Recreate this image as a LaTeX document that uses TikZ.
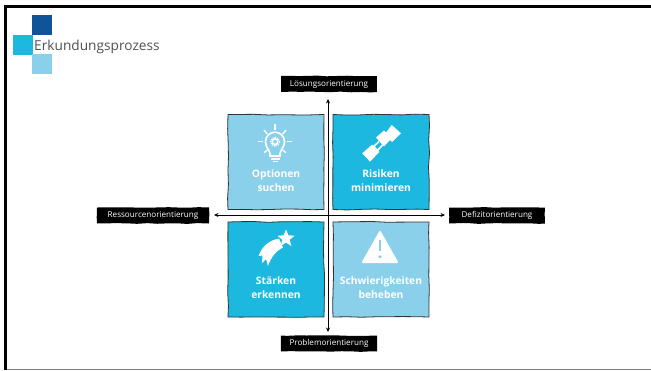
\documentclass[tikz,border=0pt]{standalone}
\usepackage{fontspec}
\setmainfont{Open Sans}
\usetikzlibrary{decorations.pathmorphing, arrows.meta}
\definecolor{darkblue}{HTML}{0F5499}
\definecolor{midblue}{HTML}{1CB8DF}
\definecolor{lightblue}{HTML}{8AD0EA}
\definecolor{titlegray}{HTML}{505050}
\definecolor{rimgray}{HTML}{808080}

\begin{document}
\begin{tikzpicture}[x=1pt,y=-1pt]
	\pgfmathsetseed{7}
	\tikzstyle{square} = [minimum size=20pt,inner sep=0pt,anchor=north west]
	\tikzstyle{panel} = [draw=black!80,line width=0.8pt,minimum width=96pt,minimum height=95pt,inner sep=0pt,decorate,decoration={random steps,segment length=14pt,amplitude=0.5pt}]
	\tikzstyle{panellabel} = [text=white,align=center,font=\fontsize{10.3}{14}\selectfont\bfseries,inner sep=0pt]
	\tikzstyle{tag} = [fill=black,text=white,font=\fontsize{8.1}{9}\selectfont,inner sep=0pt,minimum height=16pt,decorate,decoration={random steps,segment length=10pt,amplitude=0.4pt}]
	\tikzstyle{axis} = [{Stealth[length=4.5pt,width=4pt]}-{Stealth[length=4.5pt,width=4pt]},line width=1pt]
	\tikzstyle{ray} = [white,line width=1.4pt]
	\useasboundingbox (0,0) rectangle (651,370);
	% slide frame
	\fill[black] (4,370) rectangle (7,5);
	\fill[black] (4,5) rectangle (651,8);
	\fill[rimgray] (7,369) rectangle (651,370);
	% logo and title
	\node[square,fill=darkblue] (logo1) at (32,15) {};
	\node[square,fill=midblue] (logo2) at (13,35) {};
	\node[square,fill=lightblue] (logo3) at (32,54) {};
	\node[anchor=base west,inner sep=0pt,text=titlegray,font=\fontsize{13.7}{16}\selectfont] (title) at (34,50.5) {Erkundungsprozess};
	% panels
	\node[panel,fill=lightblue] (options) at (276,162) {};
	\node[panel,fill=midblue] (risks) at (381,162) {};
	\node[panel,fill=midblue] (strengths) at (276,269.5) {};
	\node[panel,fill=lightblue] (problems) at (381,269.5) {};
	\node[panellabel] (optionstext) at (276,181) {Optionen\\suchen};
	\node[panellabel] (riskstext) at (381,181) {Risiken\\minimieren};
	\node[panellabel] (strengthstext) at (276,288) {Stärken\\erkennen};
	\node[panellabel] (problemstext) at (381,288) {Schwierigkeiten\\beheben};
	% axes
	\node[tag,minimum width=96pt] (solution) at (329,84) {Lösungsorientierung};
	\node[tag,minimum width=96pt] (problem) at (329,343.5) {Problemorientierung};
	\node[tag,minimum width=112pt] (resource) at (153,215.5) {Ressourcenorientierung};
	\node[tag,minimum width=96pt] (deficit) at (497,215.5) {Defizitorientierung};
	\coordinate (north) at (328,99);
	\coordinate (south) at (328,332);
	\coordinate (west) at (214,215);
	\coordinate (east) at (445,215);
	\draw[axis] (south)--(north);
	\draw[axis] (west)--(east);
	% bulb
	\draw[white,line width=1.6pt] (270,156)--(270,153.5) .. controls (269,149) and (265.5,147) .. (265.5,141.7) arc (180:360:9.5) .. controls (284.5,147) and (281,149) .. (280,153.5)--(280,156)--cycle;
	\draw[white,line width=1.5pt] (270.5,158.8)--(279.5,158.8);
	\draw[white,line width=1.5pt] (272.5,161.5)--(277.5,161.5);
	\draw[white,line width=1.2pt,dash pattern=on 1.2pt off 1pt] (275,141.7) circle (4.4);
	\draw[white,line width=1.5pt] (275,141.7) circle (2.8);
	\draw[ray] (275,124)--(275,129.5);
	\draw[ray] (258.3,141.7)--(263.3,141.7);
	\draw[ray] (286.7,141.7)--(291.7,141.7);
	\draw[ray] (264,130)--(267.3,134);
	\draw[ray] (286,130)--(282.7,134);
	\draw[ray] (264,152.7)--(267.3,150);
	\draw[ray] (286,152.7)--(282.7,150);
	% belt
	\fill[white] (376,137.5)--(384,130.5)--(386,132.5)--(391.7,125)--(401,133.3)--(392,142)--(390,140)--(384,146.5)--cycle;
	\draw[white,line width=1.6pt] (379,141.5)--(373.7,146.5)--(377.5,150.5)--(382.5,145);
	\fill[white] (362.3,153.3)--(372.2,144.5)--(379.3,152)--(370,161.7)--cycle;
	% shooting star
	\fill[white] (286,229.5) -- (288.4,235.3) -- (294.5,235.8) -- (289.6,239.8) -- (291.4,246) -- (286,242.6) -- (280.6,246) -- (282.4,239.8) -- (277.5,235.8) -- (283.6,235.3) -- cycle;
	\fill[white] (279,238.5) .. controls (270,240) and (262,246) .. (258.5,256) -- (262.5,255.5) -- (262,263) -- (266,259) -- (268,266) .. controls (271,257) and (276,251) .. (283,247.5) -- cycle;
	% warning sign
	\fill[white,draw=white,line width=2pt,line join=round] (380,232) -- (397,262) -- (363,262) -- cycle;
	\draw[lightblue,line width=2.2pt] (380,240)--(380,251);
	\fill[lightblue] (380,256.8) circle (1.8);
\end{tikzpicture}
\end{document}
